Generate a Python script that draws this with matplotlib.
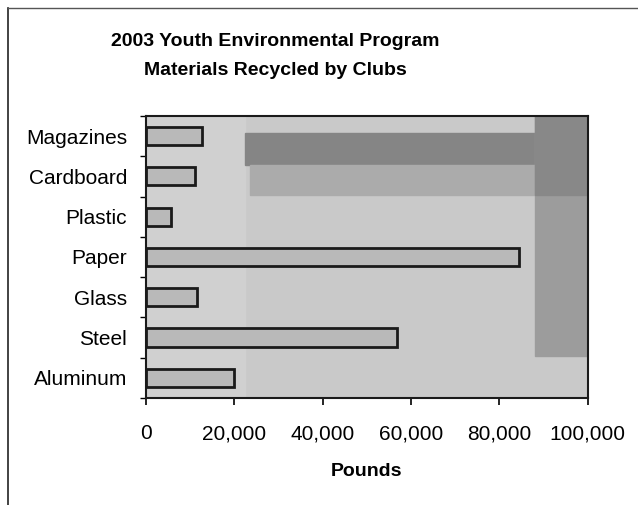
import matplotlib.pyplot as plt
import numpy as np
from matplotlib.patches import Rectangle
from matplotlib.ticker import FuncFormatter

plt.rcParams['font.family'] = ['Liberation Sans', 'DejaVu Sans']

materials = ['Aluminum', 'Steel', 'Glass', 'Paper', 'Plastic', 'Cardboard', 'Magazines']
pounds = [20000, 56800, 11700, 84500, 5700, 11200, 12700]

fig = plt.figure(figsize=(6.38, 5.05), dpi=100)
ax = fig.add_axes([0.2284, 0.2119, 0.6928, 0.5584])
ax.set_facecolor('#c9c9c9')

# darker patches of the scanned plot background
ax.add_patch(Rectangle((0, 0), 0.225, 1, transform=ax.transAxes,
                       color='#d0d0d0', zorder=0))
ax.add_patch(Rectangle((0.225, 0.825), 0.66, 0.115, transform=ax.transAxes,
                       color='#858585', zorder=0))
ax.add_patch(Rectangle((0.235, 0.72), 0.65, 0.105, transform=ax.transAxes,
                       color='#ababab', zorder=0))
ax.add_patch(Rectangle((0.88, 0.15), 0.12, 0.85, transform=ax.transAxes,
                       color='#9c9c9c', zorder=0))
ax.add_patch(Rectangle((0.88, 0.72), 0.12, 0.28, transform=ax.transAxes,
                       color='#888888', zorder=0))

y = np.arange(len(materials))
ax.barh(y, pounds, height=0.45, color='#b9b9b9', edgecolor='#1a1a1a',
        linewidth=2, zorder=2)

ax.set_xlim(0, 100000)
ax.set_ylim(-0.5, len(materials) - 0.5)
ax.set_xticks(np.arange(0, 100001, 20000))
ax.xaxis.set_major_formatter(FuncFormatter(lambda v, p: f'{int(v):,}'))
ax.set_yticks(y)
ax.set_yticklabels(materials)
ax.set_yticks(np.arange(-0.5, len(materials)), minor=True)
ax.tick_params(axis='y', which='major', length=0, pad=13.5, labelsize=15)
ax.tick_params(axis='y', which='minor', length=4, width=1, direction='out')
ax.tick_params(axis='x', length=5, width=1.2, pad=14, labelsize=15)
for s in ax.spines.values():
    s.set_linewidth(1.5)
    s.set_color('#1a1a1a')

ax.set_xlabel('Pounds', fontsize=14, fontweight='bold', labelpad=14)
fig.text(0.431, 0.889, '2003 Youth Environmental Program\nMaterials Recycled by Clubs',
         ha='center', va='center', fontsize=14, fontweight='bold',
         linespacing=1.95)

# page frame lines from the scan
fig.add_artist(plt.Line2D([0.013, 0.013], [0, 0.985], color='#222222', lw=1.2))
fig.add_artist(plt.Line2D([0.013, 1], [0.985, 0.985], color='#555555', lw=1))

fig.savefig('out.png', dpi=100)
